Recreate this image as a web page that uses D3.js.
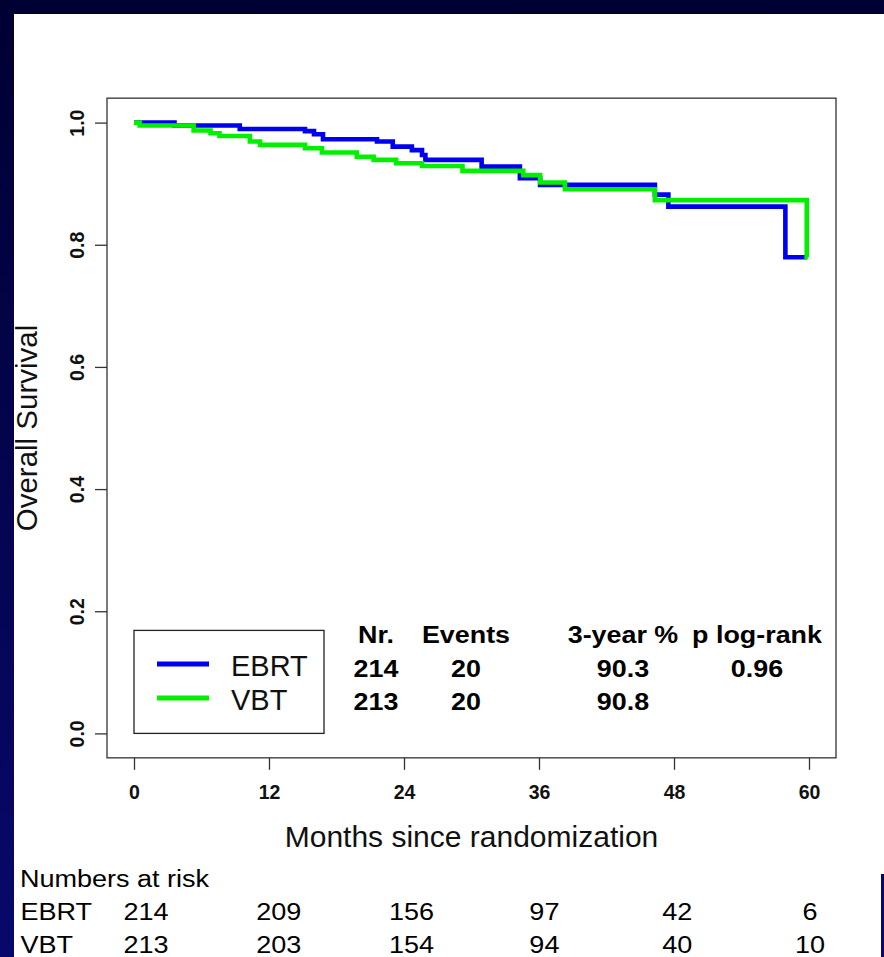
<!DOCTYPE html>
<html>
<head>
<meta charset="utf-8">
<script src="https://cdn.jsdelivr.net/npm/d3@7"></script>
<style>
  body { margin: 0; background: #000033; }
  svg { display: block; font-family: "Liberation Sans", Arial, Helvetica, sans-serif; }
</style>
</head>
<body>
<div id="chart"></div>
<script>
// axis ticks
const months = [0, 12, 24, 36, 48, 60];
const survivalTicks = [0, 0.2, 0.4, 0.6, 0.8, 1.0];

// Kaplan-Meier steps (time in months, survival after the step)
const ebrtTimes = [0, 3.6, 9.4, 15.2, 16.0, 16.8, 21.6, 23.0, 24.7, 25.6, 25.9, 30.9, 34.3, 36.1, 46.3, 47.5, 57.9, 59.8];
const ebrtSurvival = [1.0, 0.9953, 0.9895, 0.986, 0.981, 0.9728, 0.969, 0.9607, 0.955, 0.947, 0.939, 0.928, 0.909, 0.898, 0.882, 0.8625, 0.7795, 0.7795];
const vbtTimes = [0, 0.5, 5.3, 6.8, 7.6, 10.3, 11.2, 15.2, 16.7, 19.8, 21.3, 23.3, 25.6, 29.2, 34.6, 36.1, 38.3, 46.3, 59.8, 59.9];
const vbtSurvival = [1.0, 0.9953, 0.987, 0.9826, 0.978, 0.969, 0.9635, 0.958, 0.951, 0.944, 0.939, 0.9335, 0.929, 0.921, 0.914, 0.902, 0.891, 0.873, 0.7795, 0.7795];

// legend + summary table
const groups = ['EBRT', 'VBT'];
const statHeaders = ['Nr.', 'Events', '3-year %', 'p log-rank'];
const patients = [214, 213];
const events = [20, 20];
const threeYear = ['90.3', '90.8'];
const pLogRank = ['0.96', ''];

// numbers at risk
const riskMonths = [0, 12, 24, 36, 48, 60];
const ebrtAtRisk = [214, 209, 156, 97, 42, 6];
const vbtAtRisk = [213, 203, 154, 94, 40, 10];

const width = 884, height = 957;
const colors = { EBRT: '#0000f0', VBT: '#00f000' };

const svg = d3.select('#chart').append('svg')
  .attr('width', width)
  .attr('height', height);

const x = d3.scaleLinear().domain([0, 60]).range([134, 809]);
const y = d3.scaleLinear().domain([0, 1]).range([733.4, 122.6]);

drawBackground();
drawAxes();
drawCurves();
drawLegend();
drawStats();
drawRiskTable();

function drawBackground() {
  const grad = svg.append('defs').append('linearGradient')
    .attr('id', 'navy')
    .attr('x1', 0).attr('y1', 0).attr('x2', 0).attr('y2', 1);
  grad.append('stop').attr('offset', '0%').attr('stop-color', '#000033');
  grad.append('stop').attr('offset', '100%').attr('stop-color', '#08086c');

  svg.append('rect').attr('width', width).attr('height', height).attr('fill', 'url(#navy)');
  svg.append('rect').attr('x', 14).attr('y', 14).attr('width', width - 14).attr('height', 860).attr('fill', '#fff');
  svg.append('rect').attr('x', 14).attr('y', 873).attr('width', 867).attr('height', height - 873).attr('fill', '#fff');
}

function drawAxes() {
  const x0 = x(-2.4), x1 = x(62.4), y0 = y(-0.04), y1 = y(1.04);

  svg.append('rect')
    .attr('x', x0).attr('y', y1)
    .attr('width', x1 - x0).attr('height', y0 - y1)
    .attr('fill', 'none')
    .attr('stroke', '#333')
    .attr('stroke-width', 1.3);

  const xAxis = svg.append('g')
    .attr('transform', `translate(0,${y0})`)
    .call(d3.axisBottom(x).tickValues(months).tickSize(12).tickFormat(d3.format('d')));
  xAxis.select('.domain').remove();
  xAxis.selectAll('line').attr('stroke', '#333').attr('stroke-width', 1.3);
  xAxis.selectAll('text')
    .attr('y', 41.5).attr('dy', 0)
    .attr('fill', '#111')
    .style('font-size', '19.5px')
    .style('font-weight', 'bold')
    .style('font-family', '"Liberation Sans", Arial, sans-serif');

  const yAxis = svg.append('g')
    .attr('transform', `translate(${x0},0)`)
    .call(d3.axisLeft(y).tickValues(survivalTicks).tickSize(12).tickFormat(d3.format('.1f')));
  yAxis.select('.domain').remove();
  yAxis.selectAll('line').attr('stroke', '#333').attr('stroke-width', 1.3);
  yAxis.selectAll('text')
    .attr('x', 0).attr('y', 0).attr('dy', 0)
    .attr('text-anchor', 'middle')
    .attr('transform', 'translate(-23.5,0) rotate(-90)')
    .attr('fill', '#111')
    .style('font-size', '19.5px')
    .style('font-weight', 'bold')
    .style('font-family', '"Liberation Sans", Arial, sans-serif');

  svg.append('text')
    .attr('transform', `translate(37,${(y0 + y1) / 2}) rotate(-90)`)
    .attr('text-anchor', 'middle')
    .attr('fill', '#111')
    .style('font-size', '29.5px')
    .text('Overall Survival');

  svg.append('text')
    .attr('x', (x0 + x1) / 2)
    .attr('y', 847)
    .attr('text-anchor', 'middle')
    .attr('fill', '#111')
    .style('font-size', '30px')
    .text('Months since randomization');
}

function drawCurves() {
  const line = d3.line()
    .x(d => x(d[0]))
    .y(d => y(d[1]))
    .curve(d3.curveStepAfter);

  const series = [
    { name: 'EBRT', points: d3.zip(ebrtTimes, ebrtSurvival) },
    { name: 'VBT', points: d3.zip(vbtTimes, vbtSurvival) }
  ];

  svg.append('g').selectAll('path')
    .data(series)
    .enter()
    .append('path')
    .attr('d', d => line(d.points))
    .attr('fill', 'none')
    .attr('stroke', d => colors[d.name])
    .attr('stroke-width', 4.6)
    .attr('stroke-linejoin', 'miter');
}

function drawLegend() {
  const left = x(0), bottom = y(0);
  const g = svg.append('g');

  g.append('rect')
    .attr('x', left).attr('y', bottom - 103)
    .attr('width', 190).attr('height', 103)
    .attr('fill', '#fff')
    .attr('stroke', '#222')
    .attr('stroke-width', 1.3);

  const item = g.selectAll('.legend-item')
    .data(groups)
    .enter()
    .append('g')
    .attr('class', 'legend-item')
    .attr('transform', (d, i) => `translate(${left},${bottom - 69.5 + i * 34})`);

  item.append('line')
    .attr('x1', 23).attr('x2', 75)
    .attr('stroke', d => colors[d])
    .attr('stroke-width', 5);

  item.append('text')
    .attr('x', 97).attr('y', 12.5)
    .attr('fill', '#111')
    .style('font-size', '29px')
    .text(d => d);
}

function drawStats() {
  const cols = [376, 466, 623, 757];
  const rows = [643.3, 676.7, 710];
  const sx = 1.12;
  const g = svg.append('g')
    .style('font-size', '24px')
    .style('font-weight', 'bold')
    .attr('fill', '#000');

  const cells = [statHeaders];
  groups.forEach((d, i) => cells.push([patients[i], events[i], threeYear[i], pLogRank[i]]));

  cells.forEach((row, r) => {
    row.forEach((v, c) => {
      g.append('text')
        .attr('text-anchor', 'middle')
        .attr('transform', `translate(${cols[c]},${rows[r]}) scale(${sx},1)`)
        .text(v);
    });
  });
}

function drawRiskTable() {
  const riskX = d3.scaleLinear().domain([0, 60]).range([146, 810]);
  const sx = 1.16;
  const g = svg.append('g')
    .style('font-size', '23.3px')
    .attr('fill', '#000');

  g.append('text')
    .attr('text-anchor', 'start')
    .attr('transform', `translate(20,886.7) scale(${sx},1)`)
    .text('Numbers at risk');

  const rows = [ebrtAtRisk, vbtAtRisk];
  const baselines = [920, 952.7];

  rows.forEach((counts, r) => {
    g.append('text')
      .attr('text-anchor', 'start')
      .attr('transform', `translate(20.5,${baselines[r]}) scale(${sx},1)`)
      .text(groups[r]);

    g.selectAll(null)
      .data(riskMonths)
      .enter()
      .append('text')
      .attr('text-anchor', 'middle')
      .attr('transform', (d) => `translate(${riskX(d)},${baselines[r]}) scale(${sx},1)`)
      .text((d, i) => counts[i]);
  });
}
</script>
</body>
</html>
